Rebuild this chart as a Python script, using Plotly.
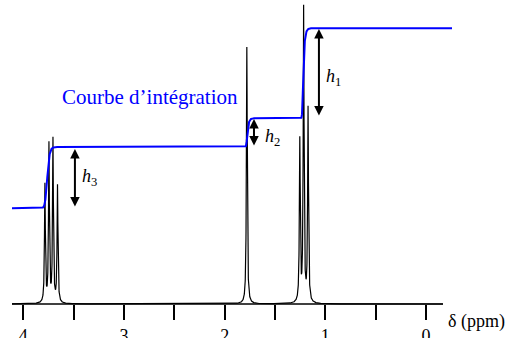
import numpy as np
import plotly.graph_objects as go

# ---- data (heights in px-like intensity units) ----
peak_ppm = [3.785, 3.745, 3.705, 3.660, 1.780, 1.254, 1.216, 1.172]
peak_height = [118, 158, 163, 117, 257, 162, 294, 194]
peak_width = 0.005  # ppm, Lorentzian half width

integ_start = 95.7
integ_centers = [3.772, 1.783, 1.228]
integ_steps = [61.3, 28.7, 90.0]
integ_widths = [0.009, 0.003, 0.003]

tick_vals = [4, 3.5, 3, 2.5, 2, 1.5, 1, 0.5, 0]
tick_text = ["4", "", "3", "", "2", "", "1", "", "0"]

arrow_ppm = [3.487, 1.709, 1.064]
arrow_top = [155, 185, 275]
arrow_bot = [96, 157, 187]
label_text = ["<i>h</i><sub>3</sub>", "<i>h</i><sub>2</sub>", "<i>h</i><sub>1</sub>"]
label_ppm = [3.338, 1.530, 0.915]
label_y = [127, 167, 227]

# ---- build curves ----
dx = 0.0005
x_spec = np.arange(4.112, -0.168, -dx)
spec = np.zeros_like(x_spec)
for p, h in zip(peak_ppm, peak_height):
    spec += h * peak_width**2 / ((x_spec - p) ** 2 + peak_width**2)

x_int = np.arange(4.112, -0.258, -dx)
target = np.full_like(x_int, integ_start)
for c, s, w in zip(integ_centers, integ_steps, integ_widths):
    target += s / (1 + np.exp(-(c - x_int) / w))
tau = 0.012
alpha = dx / tau
integ = np.empty_like(target)
integ[0] = target[0]
for i in range(1, len(target)):
    integ[i] = integ[i - 1] + alpha * (target[i] - integ[i - 1])

fig = go.Figure()
fig.add_trace(go.Scatter(x=x_spec, y=spec, mode="lines",
                         line=dict(color="black", width=1.2), hoverinfo="skip"))
fig.add_trace(go.Scatter(x=x_int, y=integ, mode="lines",
                         line=dict(color="#0000ff", width=2), hoverinfo="skip"))

# axis baseline
fig.add_shape(type="line", x0=4.112, x1=-0.168, y0=0, y1=0, xref="x", yref="y",
              line=dict(color="black", width=1.5))

annotations = []
for xa, yt, yb in zip(arrow_ppm, arrow_top, arrow_bot):
    annotations.append(dict(x=xa, y=yt, ax=xa, ay=yb, xref="x", yref="y",
                            axref="x", ayref="y", text="", showarrow=True,
                            arrowhead=2, arrowsize=0.95, arrowwidth=2,
                            arrowside="end+start", startarrowhead=2,
                            startarrowsize=0.95, arrowcolor="black",
                            standoff=0, startstandoff=0))
for t, xl, yl in zip(label_text, label_ppm, label_y):
    annotations.append(dict(x=xl, y=yl, xref="x", yref="y", text=t, showarrow=False,
                            font=dict(family="Liberation Serif", size=18, color="black")))
annotations.append(dict(x=2.737, y=207, xref="x", yref="y",
                        text="Courbe d’intégration", showarrow=False,
                        font=dict(family="Liberation Serif", size=21, color="#0000ff")))
annotations.append(dict(x=476 / 515, y=-0.045, xref="paper", yref="paper",
                        text="δ (ppm)", showarrow=False, xanchor="center", yanchor="middle",
                        font=dict(family="Liberation Serif", size=18, color="black")))

fig.update_layout(
    width=515, height=338,
    margin=dict(l=0, r=0, t=0, b=30, autoexpand=False),
    paper_bgcolor="white", plot_bgcolor="white",
    showlegend=False,
    annotations=annotations,
    xaxis=dict(range=[4.231, -0.883], showgrid=False, zeroline=False, showline=False,
               ticks="outside", ticklen=15, tickwidth=1.5, tickcolor="black",
               tickvals=tick_vals, ticktext=tick_text, anchor="free", position=4 / 308,
               automargin=False,
               tickfont=dict(family="Liberation Serif", size=18, color="black")),
    yaxis=dict(range=[-4, 304], visible=False, showgrid=False, zeroline=False,
               automargin=False),
)

fig.write_html("out.html", config={"displayModeBar": False},
               post_script="document.body.style.margin='0';document.body.style.overflow='hidden';")
